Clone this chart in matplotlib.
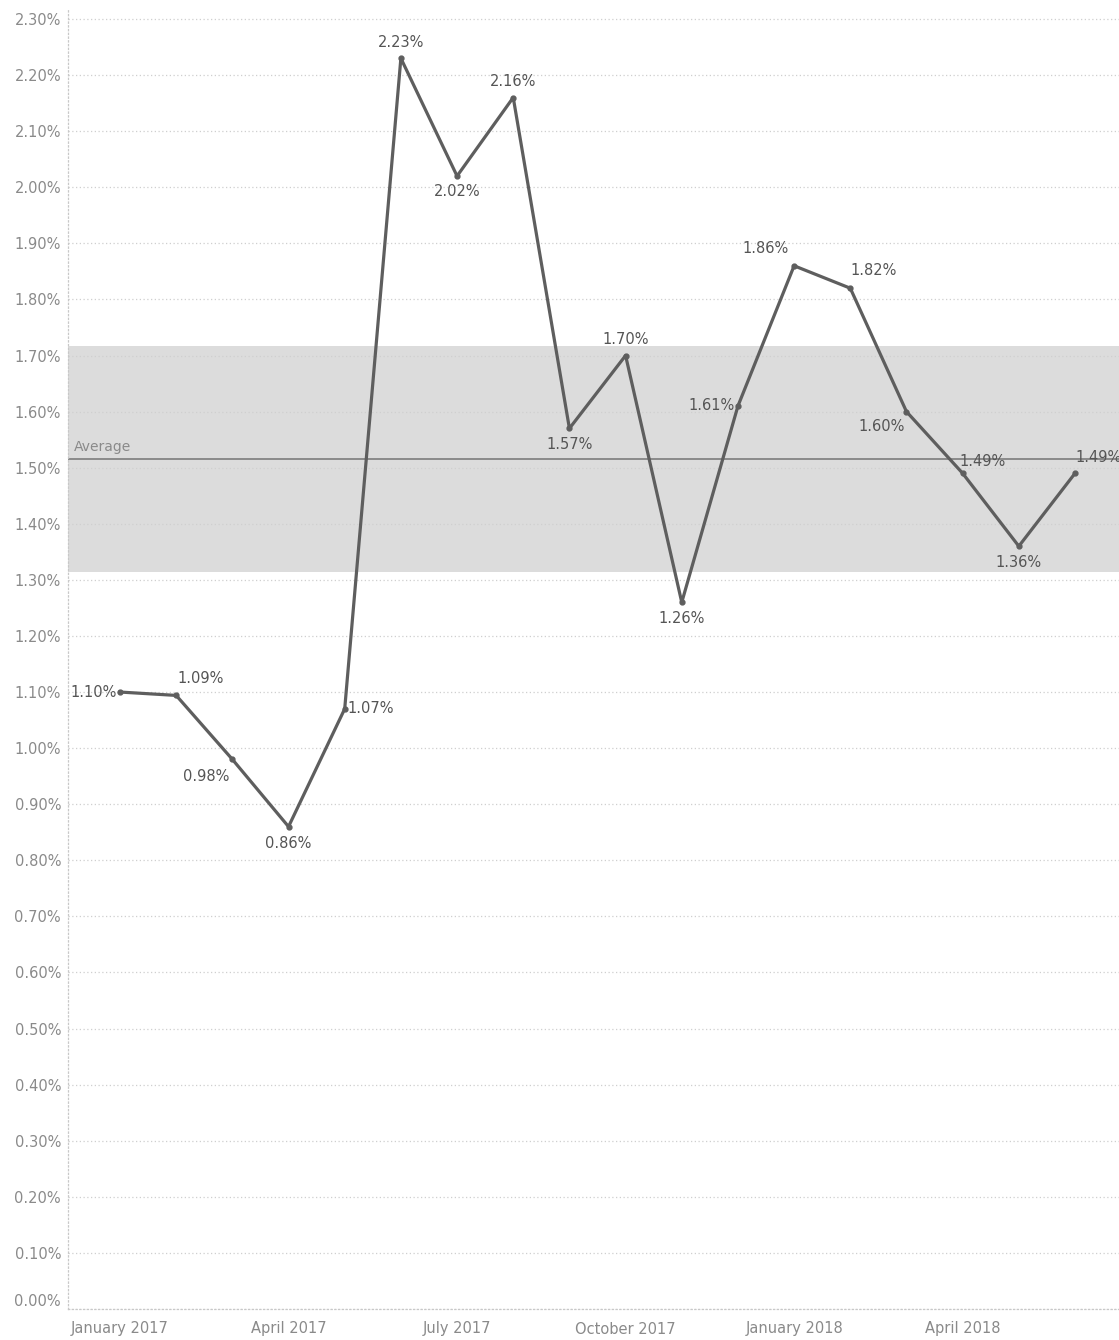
import matplotlib
matplotlib.use("Agg")
import matplotlib.pyplot as plt
import numpy as np
from matplotlib.ticker import FuncFormatter, MultipleLocator

months = ["January 2017", "February 2017", "March 2017", "April 2017", "May 2017",
          "June 2017", "July 2017", "August 2017", "September 2017", "October 2017",
          "November 2017", "December 2017", "January 2018", "February 2018",
          "March 2018", "April 2018", "May 2018", "June 2018"]
values = [1.10, 1.094, 0.98, 0.86, 1.07, 2.23, 2.02, 2.16, 1.57, 1.70,
          1.26, 1.61, 1.86, 1.82, 1.60, 1.49, 1.36, 1.49]
labels = ["1.10%", "1.09%", "0.98%", "0.86%", "1.07%", "2.23%", "2.02%", "2.16%",
          "1.57%", "1.70%", "1.26%", "1.61%", "1.86%", "1.82%", "1.60%", "1.49%",
          "1.36%", "1.49%"]
# label placement (offset in points) per point
label_offsets = [(-2, 0, "right", "center"), (1, 7, "left", "bottom"),
                 (-2, -7, "right", "top"), (0, -7, "center", "top"),
                 (2, 0, "left", "center"), (0, 6, "center", "bottom"),
                 (0, -6, "center", "top"), (0, 6, "center", "bottom"),
                 (0, -6, "center", "top"), (0, 6, "center", "bottom"),
                 (0, -6, "center", "top"), (-2, 0, "right", "center"),
                 (-4, 7, "right", "bottom"), (0, 7, "left", "bottom"),
                 (-1, -5, "right", "top"), (-2, 3, "left", "bottom"),
                 (0, -6, "center", "top"), (0, 6, "left", "bottom")]
tick_idx = [0, 3, 6, 9, 12, 15]
t_crit = 2.110  # 95% two-sided, df=17

x = np.arange(len(values))
vals = np.array(values)
mean = vals.mean()
half = t_crit * vals.std(ddof=1) / np.sqrt(len(vals))

W, H = 1119, 1340
fig = plt.figure(figsize=(W / 100, H / 100), dpi=100)
left_px, right_px, top_px, bottom_px = 68, 1119, 8, 1309
ax = fig.add_axes([left_px / W, 1 - bottom_px / H, (right_px - left_px) / W,
                   (bottom_px - top_px) / H])

step = 56.18
ax.set_xlim(-(120 - left_px) / step, 17 + (right_px - 1075) / step)
ax.set_ylim(0, 2.30 + (19 - top_px) / 560.9)

ax.axhspan(mean - half, mean + half, color="#dcdcdc", zorder=0, lw=0)
ax.axhline(mean, color="#8a8a8a", lw=1.4, zorder=1)
ax.text(ax.get_xlim()[0] + 0.11, mean + 0.01, "Average", color="#8a8a8a",
        fontsize=10, ha="left", va="bottom")

ax.yaxis.set_major_locator(MultipleLocator(0.1))
ax.yaxis.set_major_formatter(FuncFormatter(lambda v, p: f"{v:.2f}%"))
ax.grid(axis="y", color="#cfcfcf", ls=(0, (1, 2)), lw=0.9, zorder=0.5)
ax.set_axisbelow(True)

ax.plot(x, vals, color="#5e5e5e", lw=2.3, zorder=3, solid_joinstyle="round")
ax.plot(x, vals, "o", color="#5e5e5e", ms=3.5, zorder=4)

for i, (v, lab) in enumerate(zip(vals, labels)):
    dx, dy, ha, va = label_offsets[i]
    ax.annotate(lab, (i, v), xytext=(dx, dy), textcoords="offset points",
                ha=ha, va=va, fontsize=10.5, color="#555555", zorder=5,
                annotation_clip=False)

ax.set_xticks(tick_idx)
ax.set_xticklabels([months[i] for i in tick_idx])
ax.tick_params(axis="both", length=0, colors="#8a8a8a", labelsize=10.5)
ax.tick_params(axis="x", pad=9)
ax.tick_params(axis="y", pad=5)

fig.canvas.draw()
for t in ax.get_yticklabels():
    if t.get_text() == "0.00%":
        t.set_va("bottom")

for s in ["top", "right"]:
    ax.spines[s].set_visible(False)
for s in ["left", "bottom"]:
    ax.spines[s].set_color("#c8c8c8")
    ax.spines[s].set_linestyle((0, (1, 2)))
    ax.spines[s].set_linewidth(0.9)

fig.savefig("out.png", dpi=100)
